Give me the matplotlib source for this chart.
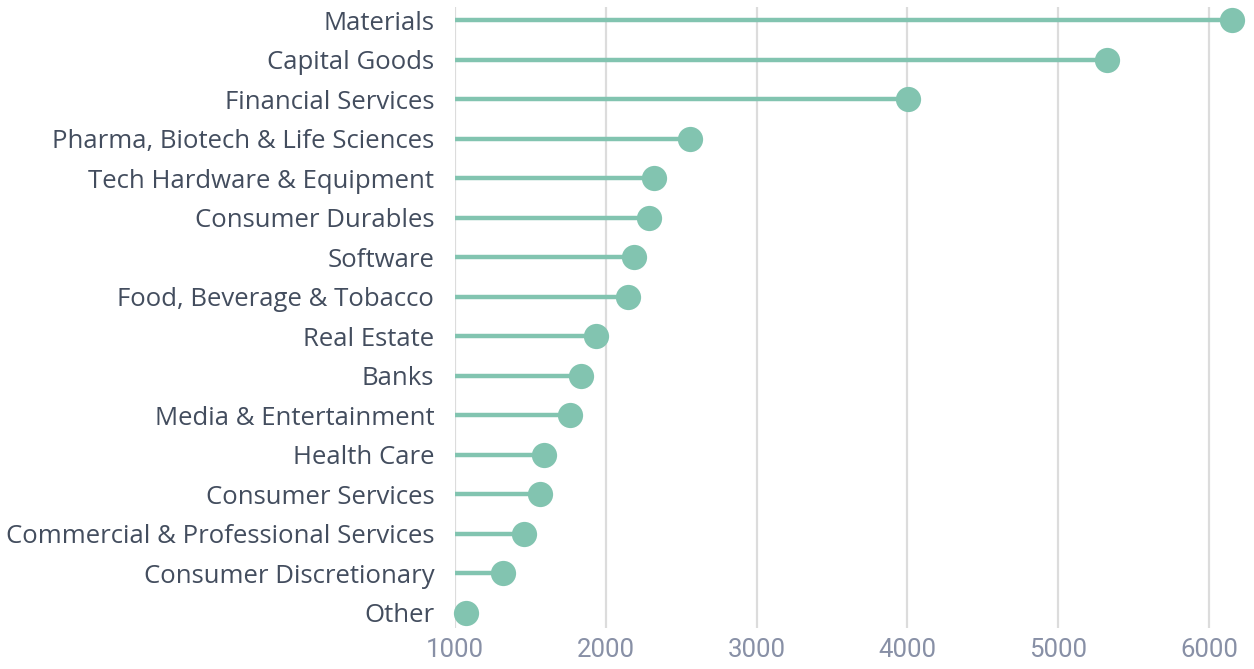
import matplotlib
matplotlib.use("Agg")
import matplotlib.pyplot as plt

categories = ["Materials", "Capital Goods", "Financial Services",
              "Pharma, Biotech & Life Sciences", "Tech Hardware & Equipment",
              "Consumer Durables", "Software", "Food, Beverage & Tobacco",
              "Real Estate", "Banks", "Media & Entertainment", "Health Care",
              "Consumer Services", "Commercial & Professional Services",
              "Consumer Discretionary", "Other"]
values = [6155, 5325, 4005, 2560, 2320, 2287, 2188, 2148,
          1935, 1836, 1763, 1590, 1564, 1458, 1318, 1073]
x_ticks = [1000, 2000, 3000, 4000, 5000, 6000]

green = "#82c4b0"
plt.rcParams["font.family"] = ["Open Sans", "DejaVu Sans"]

fig = plt.figure(figsize=(12.54, 6.69), dpi=100)
ax = fig.add_axes([455 / 1254, 1 - 628 / 669, (1254 - 455) / 1254, 621 / 669])

# bottom row first
cats = categories[::-1]
vals = values[::-1]
ys = list(range(len(cats)))

ax.hlines(ys, 1000, vals, color=green, linewidth=3.2, zorder=2)
ax.scatter(vals, ys, s=330, color=green, zorder=3, clip_on=False, linewidths=0)

ax.set_xlim(1000, 1000 + (1254 - 455) / 0.1508)
ax.set_ylim(-0.38, len(cats) - 1 + 0.33)
ax.set_xticks(x_ticks)
ax.set_xticklabels([str(t) for t in x_ticks], family=["Roboto", "DejaVu Sans"])
ax.set_yticks(ys)
ax.set_yticklabels(cats)

ax.grid(axis="x", color="#dcdcdc", linewidth=1.6, zorder=1)
ax.set_axisbelow(True)
for s in ax.spines.values():
    s.set_visible(False)

ax.tick_params(axis="y", length=0, pad=15, labelsize=18.5, labelcolor="#434d5e")
ax.tick_params(axis="x", length=0, pad=7, labelsize=18.5, labelcolor="#8890a6")

fig.savefig("out.png", dpi=100)
